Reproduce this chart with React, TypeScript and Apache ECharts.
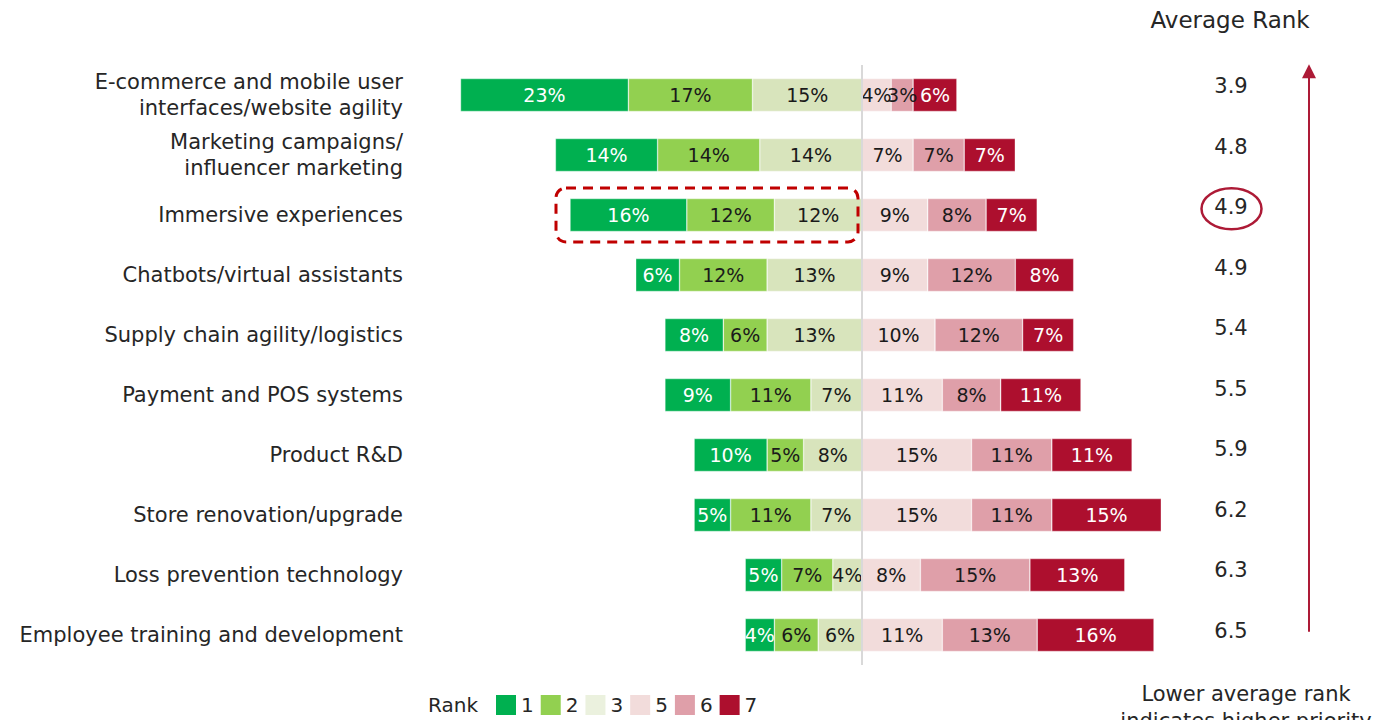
import React, { useEffect, useRef } from "react";
import * as echarts from "echarts";

const categories = [
  "E-commerce and mobile user\ninterfaces/website agility",
  "Marketing campaigns/\ninfluencer marketing",
  "Immersive experiences",
  "Chatbots/virtual assistants",
  "Supply chain agility/logistics",
  "Payment and POS systems",
  "Product R&D",
  "Store renovation/upgrade",
  "Loss prevention technology",
  "Employee training and development",
];
const rank1 = [23, 14, 16, 6, 8, 9, 10, 5, 5, 4];
const rank2 = [17, 14, 12, 12, 6, 11, 5, 11, 7, 6];
const rank3 = [15, 14, 12, 13, 13, 7, 8, 7, 4, 6];
const rank5 = [4, 7, 9, 9, 10, 11, 15, 15, 8, 11];
const rank6 = [3, 7, 8, 12, 12, 8, 11, 11, 15, 13];
const rank7 = [6, 7, 7, 8, 7, 11, 11, 15, 13, 16];
const avgRank = ["3.9", "4.8", "4.9", "4.9", "5.4", "5.5", "5.9", "6.2", "6.3", "6.5"];
const rankNames = ["1", "2", "3", "5", "6", "7"];
const highlightRow = 2;

const FONT = "DejaVu Sans";
const barColors: Record<string, string> = {
  "1": "#00b050",
  "2": "#92d050",
  "3": "#d8e4bc",
  "5": "#f2dcdb",
  "6": "#df9fa9",
  "7": "#ad0f2e",
};
const legendColors: Record<string, string> = {
  "1": "#00b050",
  "2": "#92d050",
  "3": "#ebf1de",
  "5": "#f2dcdb",
  "6": "#df9fa9",
  "7": "#ad0f2e",
};
const labelColors: Record<string, string> = {
  "1": "#ffffff",
  "2": "#1a1a1a",
  "3": "#1a1a1a",
  "5": "#1a1a1a",
  "6": "#1a1a1a",
  "7": "#ffffff",
};

function makeSeries(name: string, values: number[], negative: boolean, withLine = false) {
  const s: any = {
    name,
    type: "bar",
    stack: "total",
    barWidth: 33,
    xAxisIndex: 0,
    yAxisIndex: 0,
    data: values.map((v) => (negative ? -v : v)),
    itemStyle: { color: barColors[name], borderColor: "rgba(255,255,255,0.6)", borderWidth: 0.6 },
    label: {
      show: true,
      position: "inside",
      formatter: (p: any) => Math.abs(p.value) + "%",
      color: labelColors[name],
      fontSize: 19,
      fontFamily: FONT,
    },
  };
  if (withLine) {
    s.markLine = {
      silent: true,
      symbol: "none",
      label: { show: false },
      lineStyle: { color: "#d9d9d9", width: 2, type: "solid" },
      data: [{ xAxis: 0 }],
    };
  }
  return s;
}

export default function App() {
  const ref = useRef<HTMLDivElement>(null);
  useEffect(() => {
    document.body.style.margin = "0";
    const chart = echarts.init(ref.current!, null, { renderer: "svg" });
    const option: any = {
      animation: false,
      backgroundColor: "#ffffff",
      textStyle: { fontFamily: FONT },
      grid: [
        { left: 424, top: 65, width: 876, height: 600 },
        { left: 1231, top: 56, width: 10, height: 605 },
      ],
      xAxis: [
        { type: "value", gridIndex: 0, min: -60, max: 60, show: false },
        { type: "value", gridIndex: 1, min: 0, max: 1, show: false },
      ],
      yAxis: [
        {
          type: "category",
          gridIndex: 0,
          data: categories,
          inverse: true,
          axisLine: { show: false, onZero: false },
          axisTick: { show: false },
          splitLine: { show: false },
          axisLabel: {
            fontSize: 21,
            color: "#262626",
            margin: 21,
            lineHeight: 26,
            align: "right",
            fontFamily: FONT,
          },
        },
        {
          type: "category",
          gridIndex: 1,
          data: avgRank,
          inverse: true,
          position: "left",
          axisLine: { show: false, onZero: false },
          axisTick: { show: false },
          splitLine: { show: false },
          axisLabel: {
            fontSize: 21,
            color: "#262626",
            margin: 0,
            align: "center",
            fontFamily: FONT,
          },
        },
      ],
      legend: {
        left: 496,
        top: 693,
        padding: 0,
        itemWidth: 20,
        itemHeight: 20,
        itemGap: 7,
        icon: "rect",
        selectedMode: false,
        textStyle: { fontSize: 20, color: "#262626", fontFamily: FONT, lineHeight: 24 },
        data: rankNames.map((n) => ({ name: n, itemStyle: { color: legendColors[n], borderWidth: 0 } })),
      },
      series: [
        makeSeries("3", rank3, true),
        makeSeries("2", rank2, true),
        makeSeries("1", rank1, true),
        makeSeries("5", rank5, false, true),
        makeSeries("6", rank6, false),
        makeSeries("7", rank7, false),
      ],
    };
    chart.setOption(option);

    const x0 = chart.convertToPixel({ xAxisIndex: 0 }, 0) as number;
    const leftTotal = rank1[highlightRow] + rank2[highlightRow] + rank3[highlightRow];
    const xStart = chart.convertToPixel({ xAxisIndex: 0 }, -leftTotal) as number;
    const yRow = chart.convertToPixel({ yAxisIndex: 0 }, highlightRow) as number;
    const yAvg = chart.convertToPixel({ yAxisIndex: 1 }, highlightRow) as number;
    const yAvgFirst = chart.convertToPixel({ yAxisIndex: 1 }, 0) as number;
    const yAvgLast = chart.convertToPixel({ yAxisIndex: 1 }, avgRank.length - 1) as number;
    const red = "#ad1a36";

    chart.setOption({
      graphic: [
        {
          type: "rect",
          shape: { x: xStart - 14, y: yRow - 27, width: x0 - 4 - (xStart - 14), height: 54, r: 10 },
          style: { fill: "none", stroke: "#c00000", lineWidth: 3, lineDash: [10, 7] },
          z: 10,
        },
        {
          type: "ellipse",
          shape: { cx: 1231.5, cy: yAvg + 1.5, rx: 30, ry: 20.5 },
          style: { fill: "none", stroke: red, lineWidth: 2.5 },
          z: 10,
        },
        {
          type: "line",
          shape: { x1: 1309, y1: yAvgLast + 1, x2: 1309, y2: yAvgFirst - 10 },
          style: { stroke: red, lineWidth: 2 },
        },
        {
          type: "polygon",
          shape: { points: [[1302, yAvgFirst - 8], [1316, yAvgFirst - 8], [1309, yAvgFirst - 22]] },
          style: { fill: red },
        },
        {
          type: "text",
          x: 1230,
          y: 20,
          style: {
            text: "Average Rank",
            fontSize: 23,
            fill: "#262626",
            fontFamily: FONT,
            align: "center",
            verticalAlign: "middle",
          },
        },
        {
          type: "text",
          x: 1246,
          y: 680,
          style: {
            text: "Lower average rank\nindicates higher priority",
            fontSize: 21,
            lineHeight: 27,
            fill: "#262626",
            fontFamily: FONT,
            align: "center",
            verticalAlign: "top",
          },
        },
        {
          type: "text",
          x: 428,
          y: 705,
          style: {
            text: "Rank",
            fontSize: 20,
            fill: "#262626",
            fontFamily: FONT,
            align: "left",
            verticalAlign: "middle",
          },
        },
      ],
    });

    return () => chart.dispose();
  }, []);
  return (
    <div
      ref={ref}
      style={{ position: "fixed", left: 0, top: 0, width: 1392, height: 720 }}
    />
  );
}
